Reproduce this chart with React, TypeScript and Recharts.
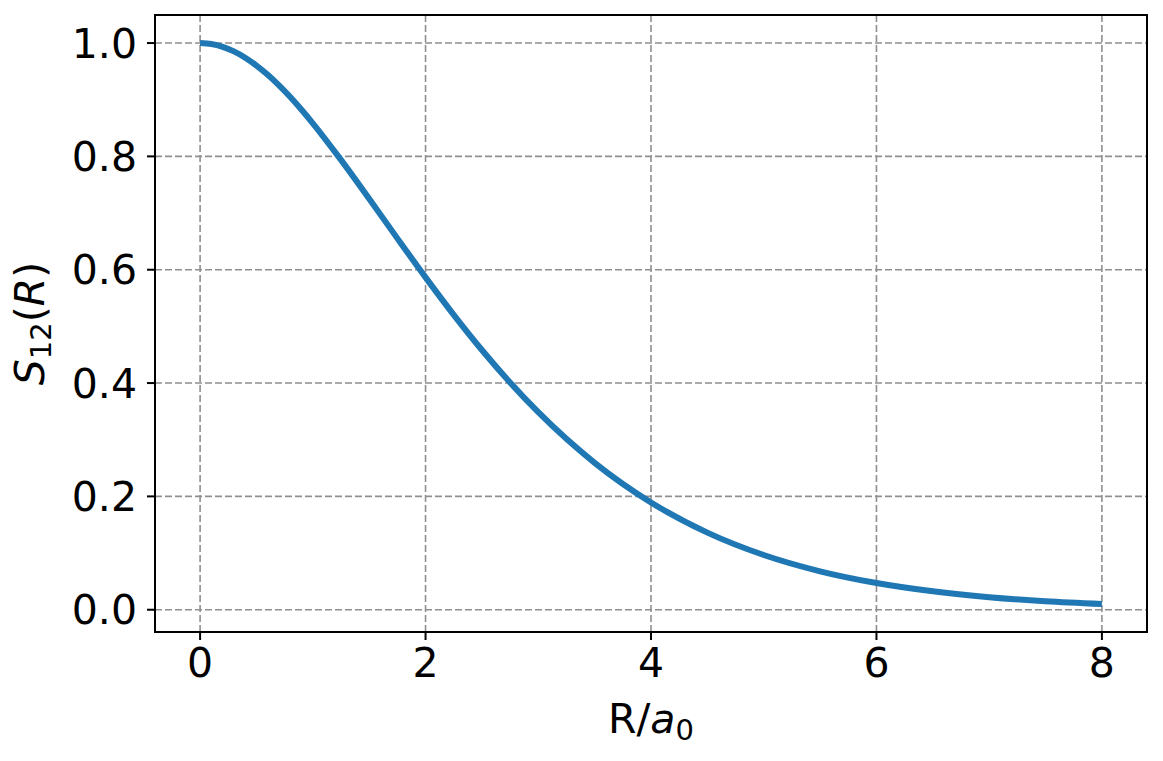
import React from "react";
import { LineChart, Line, XAxis, YAxis, CartesianGrid, ReferenceArea } from "recharts";

const rValues = [0, 0.1, 0.2, 0.3, 0.4, 0.5, 0.6, 0.7, 0.8, 0.9, 1, 1.25, 1.5, 1.75, 2, 2.25, 2.5, 2.75, 3, 3.5, 4, 4.5, 5, 5.5, 6, 6.5, 7, 7.5, 8];
const sValues = [1.0, 0.9983, 0.9934, 0.9853, 0.9742, 0.9603, 0.944, 0.9253, 0.9047, 0.8823, 0.8584, 0.7938, 0.7252, 0.6553, 0.5865, 0.5204, 0.4583, 0.4009, 0.3485, 0.2592, 0.1893, 0.1361, 0.0966, 0.0678, 0.0471, 0.0325, 0.0222, 0.0151, 0.0102];
const xTicks = [0, 2, 4, 6, 8];
const yTicks = [0, 0.2, 0.4, 0.6, 0.8, 1.0];

const data = rValues.map((r, i) => ({ r, s: sValues[i] }));

const FONT = "DejaVu Sans";
const X_DOMAIN: [number, number] = [-0.4, 8.4];
const Y_DOMAIN: [number, number] = [-0.0393, 1.0495];

const XLabel = (props: any) => {
  const vb = props.viewBox || {};
  const cx = vb.x + vb.width / 2;
  return (
    <text x={cx} y={725} textAnchor="middle" fontFamily={FONT} fontSize={41} fill="#000">
      <tspan>R/</tspan>
      <tspan fontStyle="italic">a</tspan>
      <tspan fontSize={29} dy={7}>0</tspan>
    </text>
  );
};

const YLabel = (props: any) => {
  const vb = props.viewBox || {};
  const cy = vb.y + vb.height / 2;
  const x = 36;
  return (
    <text
      x={x}
      y={cy}
      textAnchor="middle"
      fontFamily={FONT}
      fontSize={41}
      fill="#000"
      transform={`rotate(-90, ${x}, ${cy})`}
    >
      <tspan fontStyle="italic">S</tspan>
      <tspan fontSize={29} dy={7}>12</tspan>
      <tspan dy={-7}>(</tspan>
      <tspan fontStyle="italic">R</tspan>
      <tspan>)</tspan>
    </text>
  );
};

export default function App() {
  return (
    <div style={{ width: 1155, height: 753 }}>
      <LineChart
        width={1155}
        height={753}
        data={data}
        margin={{ top: 7, right: 16, left: 0, bottom: 0 }}
      >
        <CartesianGrid
          stroke="#8f8f8f"
          strokeWidth={1.6}
          strokeDasharray="7 3"
          horizontalValues={yTicks}
          verticalValues={xTicks}
        />
        <XAxis
          dataKey="r"
          type="number"
          domain={X_DOMAIN}
          ticks={xTicks}
          allowDataOverflow
          height={129}
          tickSize={8}
          tickMargin={8}
          axisLine={false}
          tickLine={{ stroke: "#000", strokeWidth: 2 }}
          tick={{ fontSize: 41, fontFamily: FONT, fill: "#000" }}
          tickFormatter={(v: number) => String(v)}
          label={<XLabel />}
        />
        <YAxis
          type="number"
          domain={Y_DOMAIN}
          ticks={yTicks}
          allowDataOverflow
          width={147}
          tickSize={8}
          tickMargin={10}
          axisLine={false}
          tickLine={{ stroke: "#000", strokeWidth: 2 }}
          tick={{ fontSize: 41, fontFamily: FONT, fill: "#000" }}
          tickFormatter={(v: number) => v.toFixed(1)}
          label={<YLabel />}
        />
        <Line
          type="monotone"
          dataKey="s"
          stroke="#1f77b4"
          strokeWidth={6}
          dot={false}
          isAnimationActive={false}
          strokeLinecap="butt"
        />
        <ReferenceArea
          x1={X_DOMAIN[0]}
          x2={X_DOMAIN[1]}
          y1={Y_DOMAIN[0]}
          y2={Y_DOMAIN[1]}
          fill="none"
          stroke="#000"
          strokeWidth={2}
          ifOverflow="visible"
        />
      </LineChart>
    </div>
  );
}
